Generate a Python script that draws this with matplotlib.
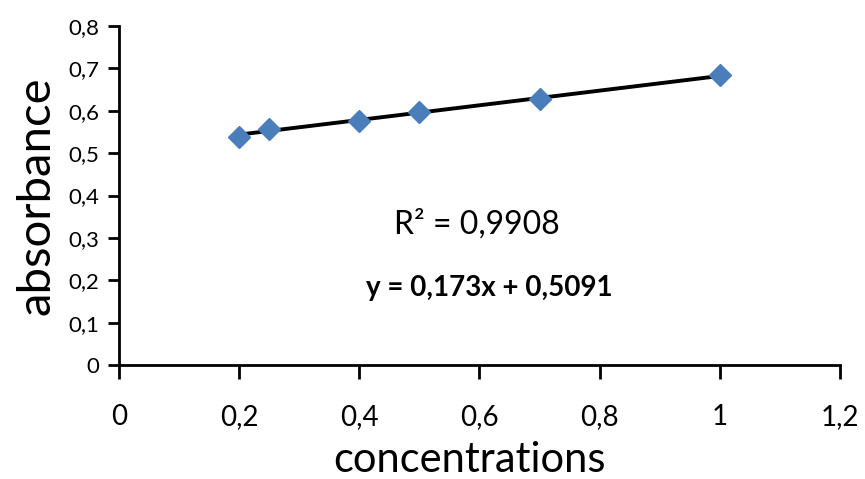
import matplotlib
matplotlib.use("Agg")
import matplotlib.pyplot as plt
import numpy as np

concentrations = [0.2, 0.25, 0.4, 0.5, 0.7, 1.0]
absorbance = [0.537, 0.557, 0.576, 0.597, 0.628, 0.684]
slope = 0.173
intercept = 0.5091
r2_text = "R² = 0,9908"
eq_text = "y = 0,173x + 0,5091"
xticks = [0, 0.2, 0.4, 0.6, 0.8, 1.0, 1.2]
xticklabels = ["0", "0,2", "0,4", "0,6", "0,8", "1", "1,2"]
yticks = [0, 0.1, 0.2, 0.3, 0.4, 0.5, 0.6, 0.7, 0.8]
yticklabels = ["0", "0,1", "0,2", "0,3", "0,4", "0,5", "0,6", "0,7", "0,8"]

plt.rcParams['font.family'] = ['Lato', 'DejaVu Sans']

fig = plt.figure(figsize=(8.65, 4.79), dpi=100)
ax = fig.add_axes([0.1376, 0.238, 0.971 - 0.1376, 0.9457 - 0.238])

xs = np.array([min(concentrations), max(concentrations)])
ax.plot(xs, slope * xs + intercept, color='black', lw=2.8, zorder=2)
ax.plot(concentrations, absorbance, linestyle='none', marker='D', markersize=11,
        color='#4a7ebb', zorder=3)

ax.set_xlim(0, 1.2)
ax.set_ylim(0, 0.8)
ax.set_xticks(xticks)
ax.set_xticklabels(xticklabels)
ax.set_yticks(yticks)
ax.set_yticklabels(yticklabels)
for s in ['top', 'right']:
    ax.spines[s].set_visible(False)
for s in ['left', 'bottom']:
    ax.spines[s].set_linewidth(2)
ax.tick_params(axis='x', direction='out', length=10, width=2, labelsize=20, pad=18)
ax.tick_params(axis='y', direction='out', length=8, width=2, labelsize=16, pad=6)

ax.set_xlabel("concentrations", fontsize=30, labelpad=8)
ax.xaxis.set_label_coords(0.486, -0.225)
ax.set_ylabel("absorbance", fontsize=34, labelpad=8)

ax.text(0.596, 0.333, r2_text, fontsize=23, ha='center', va='center')
ax.text(0.617, 0.181, eq_text, fontsize=20, fontweight='bold', ha='center', va='center')

fig.savefig("out.png", dpi=100)
